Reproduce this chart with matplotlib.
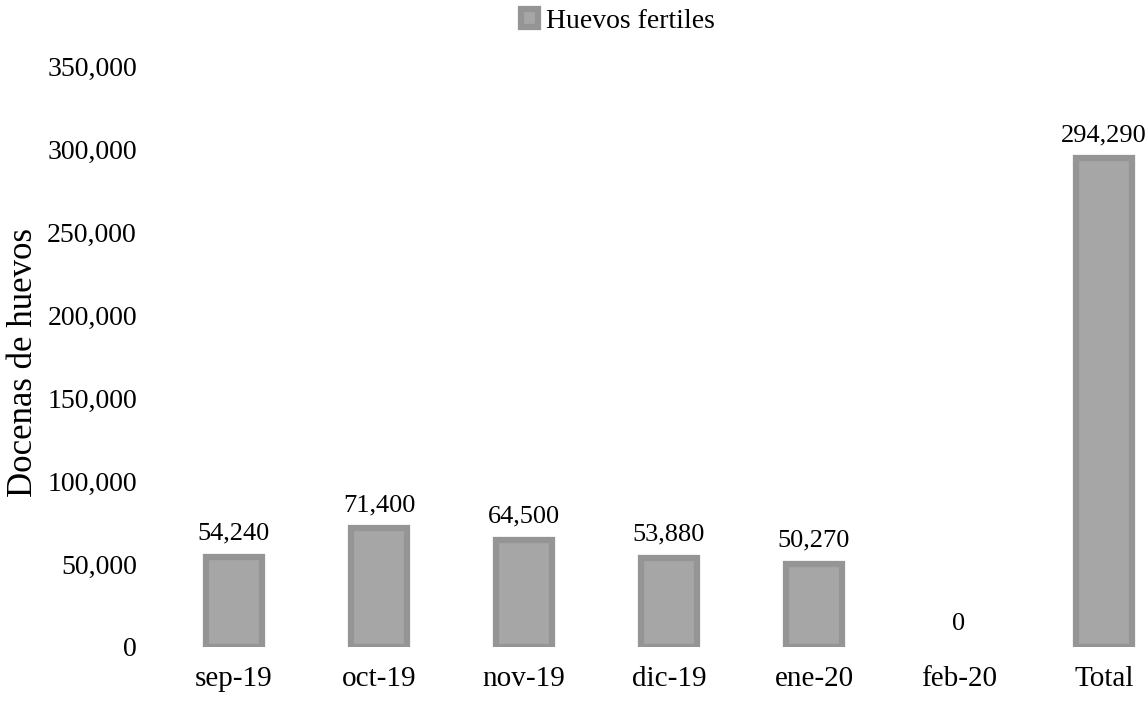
import matplotlib.pyplot as plt
import matplotlib.patheffects as pe
from matplotlib.ticker import FuncFormatter

meses = ['sep-19', 'oct-19', 'nov-19', 'dic-19', 'ene-20', 'feb-20', 'Total']
huevos = [54240, 71400, 64500, 53880, 50270, 0, 294290]

plt.rcParams['font.family'] = ['Liberation Serif', 'DejaVu Serif']

W, H = 1146, 701
fig = plt.figure(figsize=(W / 100, H / 100), dpi=100)
# ejes: izquierda 150 px, abajo (0) en y=647 px, arriba (350000) en y=66 px
ax = fig.add_axes([150 / W, (H - 647) / H, 996 / W, 581 / H])

x = list(range(len(meses)))
anchos_borde = [4.5 if v > 0 else 0 for v in huevos]
barras = ax.bar(x, huevos, width=0.38, color='#a6a6a6', edgecolor='#959595',
                linewidth=anchos_borde, label='Huevos fertiles')
for b in barras:
    b.set_path_effects([pe.SimplePatchShadow(offset=(1.5, -1.5), alpha=0.12, rho=1.0),
                        pe.Normal()])

for xi, v in zip(x, huevos):
    ax.annotate(f'{v:,}', (xi, v), xytext=(0, 9), textcoords='offset points',
                ha='center', va='bottom', fontsize=19)

ax.set_xlim(-0.579, 6.29)
ax.set_ylim(0, 350000)
ax.set_yticks(range(0, 350001, 50000))
ax.yaxis.set_major_formatter(FuncFormatter(lambda v, p: f'{int(v):,}'))
ax.set_xticks(x)
ax.set_xticklabels(meses)
ax.tick_params(axis='both', length=0)
ax.tick_params(axis='x', pad=14, labelsize=21)
ax.tick_params(axis='y', pad=9.4, labelsize=20)
for s in ax.spines.values():
    s.set_visible(False)

fig.text(40 / W, 1 - 362 / H, 'Docenas de huevos', rotation=90,
         ha='right', va='center', fontsize=25)

leg = fig.legend(handles=[barras], labels=['Huevos fertiles'], loc='center',
                 bbox_to_anchor=(618 / W, 1 - 21 / H), frameon=False, fontsize=20,
                 handlelength=0.6, handleheight=0.6, handletextpad=0.3)

plt.savefig('out.png', dpi=100)
